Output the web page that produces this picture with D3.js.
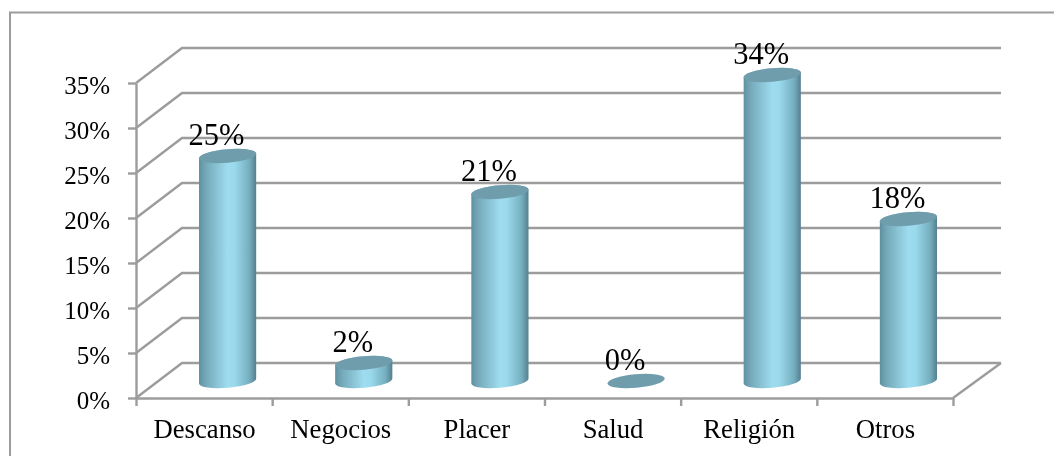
<!DOCTYPE html>
<html><head><meta charset="utf-8">
<script src="https://cdn.jsdelivr.net/npm/d3@7/dist/d3.min.js"></script>
<style>html,body{margin:0;padding:0;background:#fff}svg{display:block}text{font-family:"Liberation Serif",serif;fill:#000}</style>
</head><body><div id="c"></div>
<script>
const categories=["Descanso","Negocios","Placer","Salud","Religión","Otros"];
const values=[25,2,21,0,34,18];
const yTicks=[0,5,10,15,20,25,30,35];

const W=1054,H=456;
const pL=136,pR=953,pB=398,pT=83;
const depthX=46,depthY=-35;
const svg=d3.select("#c").append("svg").attr("width",W).attr("height",H);
const defs=svg.append("defs");
const g=defs.append("linearGradient").attr("id","cyl");
[[0,"#5f909f"],[0.12,"#74a9b9"],[0.5,"#9edcef"],[0.62,"#9adaec"],[0.88,"#75aebf"],[1,"#55808e"]].forEach(s=>g.append("stop").attr("offset",s[0]).attr("stop-color",s[1]));
defs.append("filter").attr("id","soft").append("feGaussianBlur").attr("stdDeviation",0.35);

const x=d3.scaleBand().domain(categories).range([pL,pR]);
const y=d3.scaleLinear().domain([0,35]).range([pB,pT]);
const root=svg.append("g").attr("filter","url(#soft)");
root.append("rect").attr("width",W).attr("height",H).attr("fill","#fff");
const grey="#9c9c9c";

// frame (top and left edges only)
root.append("path").attr("d",`M10,${H}V12.5H${W}`).attr("fill","none").attr("stroke",grey).attr("stroke-width",2);

// walls & gridlines
const grid=root.append("g").attr("fill","none").attr("stroke",grey).attr("stroke-width",2.4);
yTicks.forEach(t=>{
  grid.append("path").attr("d",`M${pL},${y(t)}L${pL+depthX},${y(t)+depthY}H${pR+depthX+2}`);
});
grid.append("path").attr("d",`M${pR},${pB}L${pR+depthX+2},${pB+depthY}`);

// axes
const ax=root.append("g").attr("transform",`translate(${pL},0)`).call(d3.axisLeft(y).tickValues(yTicks).tickSize(8).tickSizeOuter(0).tickFormat(d=>d+"%"));
ax.selectAll("path,line").attr("stroke",grey).attr("stroke-width",2.4);
ax.selectAll("text").attr("x",-26).attr("dy",null).attr("y",10.5).attr("font-size",25).attr("font-family","Liberation Serif").attr("text-anchor","end");

const bx=root.append("g").attr("transform",`translate(0,${pB})`).call(d3.axisBottom(d3.scalePoint().domain(d3.range(categories.length+1)).range([pL,pR])).tickSize(8).tickSizeOuter(0).tickFormat(d=>categories[d]||""));
bx.selectAll("path,line").attr("stroke",grey).attr("stroke-width",2.4);
const step=x.step();
bx.selectAll("text").attr("x",step/2).attr("y",39.5).attr("dy",null).attr("font-size",26.7).attr("font-family","Liberation Serif").attr("text-anchor","middle");

// cylinders
const rx=28.7,ry=6.8,rot=-5,ca=Math.cos(rot*Math.PI/180)*rx,sa=Math.sin(rot*Math.PI/180)*rx;
const cx=d=>x(d)+step/2+depthX/2+0.5;
const cy=v=>y(v)+depthY/2+0.5;
const bars=root.append("g").selectAll("g").data(categories.map((c,i)=>({c,v:values[i]}))).join("g");
bars.filter(d=>d.v>0).append("path")
  .attr("d",d=>{const X=cx(d.c),t=cy(d.v),b=cy(0);
    return `M${X-ca},${t-sa}L${X-ca},${b-sa}A${rx},${ry} ${rot} 0 0 ${X+ca},${b+sa}L${X+ca},${t+sa}A${rx},${ry} ${rot} 0 0 ${X-ca},${t-sa}Z`;})
  .attr("fill","url(#cyl)");
bars.append("ellipse").attr("rx",rx).attr("ry",ry)
  .attr("transform",d=>`translate(${cx(d.c)},${cy(d.v)}) rotate(${rot})`)
  .attr("fill","#6f9dac");
// value labels
bars.append("text").attr("x",d=>cx(d.c)-11).attr("y",d=>cy(d.v)-11.5)
  .attr("text-anchor","middle").attr("font-size",30.5).text(d=>d.v+"%");
</script></body></html>
